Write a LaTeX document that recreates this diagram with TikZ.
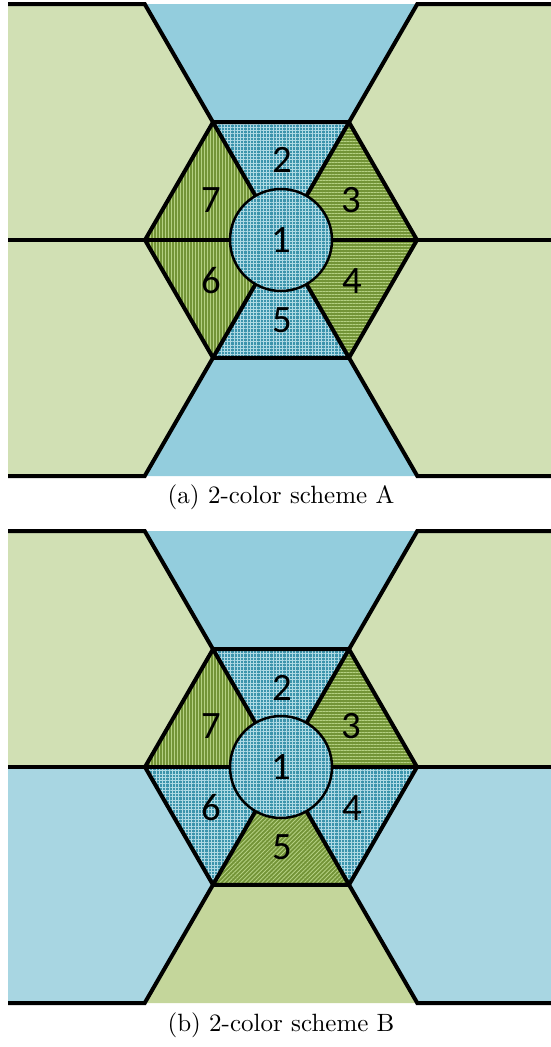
\documentclass[tikz,border=0pt]{standalone}
\usepackage{fontspec}
\usepackage{tikz}
\usetikzlibrary{patterns.meta}
\newfontfamily\cellfont{Carlito}
\definecolor{skyfill}{RGB}{147, 205, 221}
\definecolor{palesky}{RGB}{168, 214, 226}
\definecolor{mossfill}{RGB}{209, 224, 180}
\definecolor{sagefill}{RGB}{196, 214, 155}
\definecolor{weavebase}{RGB}{60, 148, 172}
\definecolor{weavelight}{RGB}{175, 218, 228}
\definecolor{stripebase}{RGB}{115, 148, 55}
\definecolor{stripelight}{RGB}{180, 208, 130}
\tikzstyle{blueweave} = [preaction={fill=weavebase}, pattern={Hatch[angle=0, distance=1.3pt, line width=0.25pt]}, pattern color=weavelight]
\tikzstyle{hstripe} = [preaction={fill=stripebase}, pattern={Lines[angle=0, distance=1.2pt, line width=0.35pt]}, pattern color=stripelight]
\tikzstyle{vstripe} = [preaction={fill=stripebase}, pattern={Lines[angle=90, distance=1.2pt, line width=0.35pt]}, pattern color=stripelight]
\tikzstyle{dstripe} = [preaction={fill=stripebase}, pattern={Lines[angle=45, distance=1.2pt, line width=0.35pt]}, pattern color=stripelight]
\tikzstyle{edge} = [draw=black, line width=1.6pt, line join=miter]
\tikzstyle{rim} = [draw=black, line width=1pt]
\tikzstyle{cell} = [font=\cellfont\fontsize{15.5}{18}\selectfont, inner sep=0pt]
\tikzstyle{caption} = [font=\normalsize]

\begin{document}
\begin{tikzpicture}[x=0.4pt, y=0.4pt]
    \useasboundingbox (0,0) rectangle (551,-1047);

    % Panel (a)
    \begin{scope}[shift={(281,-240)}]
        % outer regions
        \fill[skyfill] (120:136) -- (-136.3,236) -- (136.3,236) -- (60:136) -- cycle;
        \fill[skyfill] (240:136) -- (-136.3,-236) -- (136.3,-236) -- (300:136) -- cycle;
        \fill[mossfill] (60:136) -- (136.3,236) -- (270,236) -- (270,0) -- (0:136) -- cycle;
        \fill[mossfill] (300:136) -- (136.3,-236) -- (270,-236) -- (270,0) -- (0:136) -- cycle;
        \fill[mossfill] (120:136) -- (-136.3,236) -- (-273,236) -- (-273,0) -- (180:136) -- cycle;
        \fill[mossfill] (240:136) -- (-136.3,-236) -- (-273,-236) -- (-273,0) -- (180:136) -- cycle;
        % hexagon cells
        \path[blueweave] (0,0) -- (120:136) -- (60:136) -- cycle;
        \path[hstripe] (0,0) -- (60:136) -- (0:136) -- cycle;
        \path[hstripe] (0,0) -- (0:136) -- (300:136) -- cycle;
        \path[blueweave] (0,0) -- (300:136) -- (240:136) -- cycle;
        \path[vstripe] (0,0) -- (240:136) -- (180:136) -- cycle;
        \path[vstripe] (0,0) -- (180:136) -- (120:136) -- cycle;
        % lines
        \draw[edge] (0:136) -- (60:136) -- (120:136) -- (180:136) -- (240:136) -- (300:136) -- cycle;
        \draw[edge] (-273,236) -- (-136.3,236) -- (120:51);
        \draw[edge] (270,236) -- (136.3,236) -- (60:51);
        \draw[edge] (-273,-236) -- (-136.3,-236) -- (240:51);
        \draw[edge] (270,-236) -- (136.3,-236) -- (300:51);
        \draw[edge] (-273,0) -- (180:51);
        \draw[edge] (270,0) -- (0:51);
        \path[blueweave] (0,0) circle (51);
        \draw[rim] (0,0) circle (51);
        % labels
        \node[cell] (a1) at (0,0) {1};
        \node[cell] (a2) at (1,80) {2};
        \node[cell] (a3) at (70,40) {3};
        \node[cell] (a4) at (71,-41) {4};
        \node[cell] (a5) at (1,-80) {5};
        \node[cell] (a6) at (-70,-41) {6};
        \node[cell] (a7) at (-70,40) {7};
    \end{scope}
    \node[caption] (capa) at (281,-497) {(a) 2-color scheme A};

    % Panel (b)
    \begin{scope}[shift={(281,-767)}]
        % outer regions
        \fill[skyfill] (120:136) -- (-136.3,236) -- (136.3,236) -- (60:136) -- cycle;
        \fill[sagefill] (240:136) -- (-136.3,-236) -- (136.3,-236) -- (300:136) -- cycle;
        \fill[mossfill] (60:136) -- (136.3,236) -- (270,236) -- (270,0) -- (0:136) -- cycle;
        \fill[palesky] (300:136) -- (136.3,-236) -- (270,-236) -- (270,0) -- (0:136) -- cycle;
        \fill[mossfill] (120:136) -- (-136.3,236) -- (-273,236) -- (-273,0) -- (180:136) -- cycle;
        \fill[palesky] (240:136) -- (-136.3,-236) -- (-273,-236) -- (-273,0) -- (180:136) -- cycle;
        % hexagon cells
        \path[blueweave] (0,0) -- (120:136) -- (60:136) -- cycle;
        \path[hstripe] (0,0) -- (60:136) -- (0:136) -- cycle;
        \path[blueweave] (0,0) -- (0:136) -- (300:136) -- cycle;
        \path[dstripe] (0,0) -- (300:136) -- (240:136) -- cycle;
        \path[blueweave] (0,0) -- (240:136) -- (180:136) -- cycle;
        \path[vstripe] (0,0) -- (180:136) -- (120:136) -- cycle;
        % lines
        \draw[edge] (0:136) -- (60:136) -- (120:136) -- (180:136) -- (240:136) -- (300:136) -- cycle;
        \draw[edge] (-273,236) -- (-136.3,236) -- (120:51);
        \draw[edge] (270,236) -- (136.3,236) -- (60:51);
        \draw[edge] (-273,-236) -- (-136.3,-236) -- (240:51);
        \draw[edge] (270,-236) -- (136.3,-236) -- (300:51);
        \draw[edge] (-273,0) -- (180:51);
        \draw[edge] (270,0) -- (0:51);
        \path[blueweave] (0,0) circle (51);
        \draw[rim] (0,0) circle (51);
        % labels
        \node[cell] (b1) at (0,0) {1};
        \node[cell] (b2) at (1,79) {2};
        \node[cell] (b3) at (70,41) {3};
        \node[cell] (b4) at (71,-41) {4};
        \node[cell] (b5) at (1,-80) {5};
        \node[cell] (b6) at (-70,-41) {6};
        \node[cell] (b7) at (-70,41) {7};
    \end{scope}
    \node[caption] (capb) at (281,-1025) {(b) 2-color scheme B};
\end{tikzpicture}
\end{document}
